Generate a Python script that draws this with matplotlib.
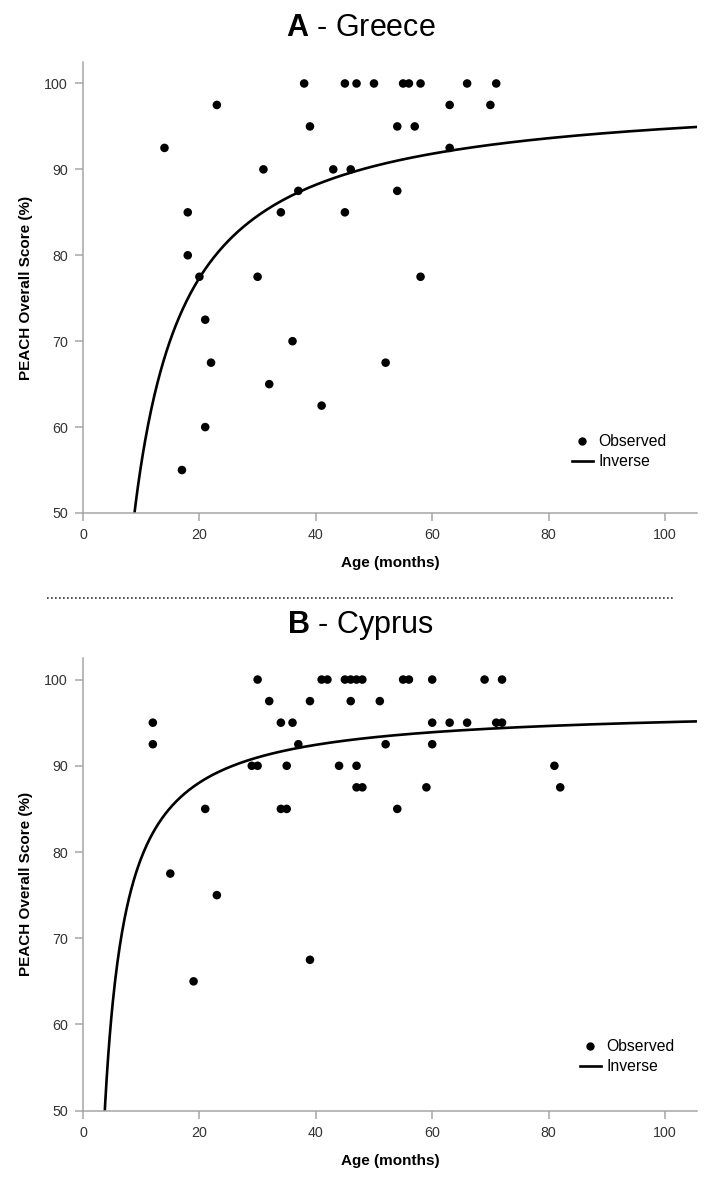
#!/usr/bin/env python3
"""
PEACH overall score vs age, with inverse curve fit (y = b0 + b1 / x).
Panel A: Greece, panel B: Cyprus.

Output: out.png (721 x 1193 px)
"""

import matplotlib

matplotlib.use("Agg")

import numpy as np
import matplotlib.pyplot as plt
from matplotlib.lines import Line2D

DPI = 100
W, H = 721, 1193

plt.rcParams["font.family"] = ["Liberation Sans", "DejaVu Sans"]
plt.rcParams["mathtext.fontset"] = "custom"
plt.rcParams["mathtext.bf"] = "Liberation Sans:bold"
plt.rcParams["mathtext.rm"] = "Liberation Sans"

C_AXIS = "#a6a6a6"
C_TICKLBL = "#333333"

# Panel A - Greece (age in months, score in %)
age_greece = [
    38, 23, 39, 14, 31, 37, 18, 34, 18, 20, 30, 21, 36, 22, 32, 21, 17,
    45, 47, 50, 55, 56, 58, 66, 71, 63, 70, 54, 57, 63, 43, 46, 54, 45,
    58, 52, 41,
]
score_greece = [
    100, 97.5, 95, 92.5, 90, 87.5, 85, 85, 80, 77.5, 77.5, 72.5, 70, 67.5, 65, 60, 55,
    100, 100, 100, 100, 100, 100, 100, 100, 97.5, 97.5, 95, 95, 92.5, 90, 90, 87.5, 85,
    77.5, 67.5, 62.5,
]

# Panel B - Cyprus
age_cyprus = [
    30, 32, 39, 12, 34, 36, 12, 37, 29, 30, 35, 21, 34, 35, 15, 23, 39, 19,
    41, 42, 45, 46, 47, 48, 55, 56, 60, 69, 72,
    46, 51,
    60, 63, 66, 71, 72,
    52, 60,
    44, 47,
    47, 48, 59,
    54,
    81, 82,
]
score_cyprus = [
    100, 97.5, 97.5, 95, 95, 95, 92.5, 92.5, 90, 90, 90, 85, 85, 85, 77.5, 75, 67.5, 65,
    100, 100, 100, 100, 100, 100, 100, 100, 100, 100, 100,
    97.5, 97.5,
    95, 95, 95, 95, 95,
    92.5, 92.5,
    90, 90,
    87.5, 87.5, 87.5,
    85,
    90, 87.5,
]

X_TICKS = [0, 20, 40, 60, 80, 100]
Y_TICKS = [50, 60, 70, 80, 90, 100]


def inverse_fit(x, y):
    """Ajuste inverso y = b0 + b1/x por minimos cuadrados."""
    x = np.asarray(x, dtype=float)
    y = np.asarray(y, dtype=float)
    b1, b0 = np.polyfit(1.0 / x, y, 1)
    return b0, b1


def draw_panel(ax, ages, scores, legend_xy):
    b0, b1 = inverse_fit(ages, scores)
    xs = np.linspace(0.5, 106, 800)
    ax.plot(xs, b0 + b1 / xs, color="black", lw=1.9, zorder=2)
    ax.scatter(ages, scores, s=38, color="black", edgecolors="none", zorder=3)

    ax.set_xlim(0, 105.5)
    ax.set_ylim(50, 102.5)
    ax.set_xticks(X_TICKS)
    ax.set_yticks(Y_TICKS)

    for side in ("top", "right"):
        ax.spines[side].set_visible(False)
    for side in ("left", "bottom"):
        ax.spines[side].set_color(C_AXIS)
        ax.spines[side].set_linewidth(1.1)
    ax.tick_params(
        direction="out", length=6, width=1.1, color=C_AXIS,
        labelsize=10.3, labelcolor=C_TICKLBL, pad=5,
    )

    ax.set_xlabel("Age (months)", fontsize=11, fontweight="bold", labelpad=10)
    ax.set_ylabel("PEACH Overall Score (%)", fontsize=11, fontweight="bold", labelpad=8)

    handles = [
        Line2D([], [], ls="none", marker="o", ms=5, color="black"),
        Line2D([], [], color="black", lw=1.9),
    ]
    ax.legend(
        handles, ["Observed", "Inverse"],
        loc="center left", bbox_to_anchor=legend_xy,
        frameon=False, fontsize=11.3, borderpad=0, borderaxespad=0,
        handlelength=1.35, handletextpad=0.35, labelspacing=0.3,
    )


def main():
    fig = plt.figure(figsize=(W / DPI, H / DPI), dpi=DPI)
    fig.patch.set_facecolor("white")

    left = 83 / W
    width = (697 - 83) / W

    ax_a = fig.add_axes([left, 1 - 513 / H, width, (513 - 62) / H])
    ax_b = fig.add_axes([left, 1 - 1110.7 / H, width, (1110.7 - 658) / H])

    draw_panel(ax_a, age_greece, score_greece, (0.796, 0.136))
    draw_panel(ax_b, age_cyprus, score_cyprus, (0.809, 0.119))

    # Titulos de panel.
    fig.text(0.5, 1 - 36 / H, r"$\mathbf{A}$ - Greece", ha="center", va="baseline",
             fontsize=22, color="black")
    fig.text(0.5, 1 - 633 / H, r"$\mathbf{B}$ - Cyprus", ha="center", va="baseline",
             fontsize=22, color="black")

    # Separador punteado.
    fig.add_artist(Line2D(
        [47 / W, 675 / W], [1 - 598 / H, 1 - 598 / H],
        transform=fig.transFigure, color="#333333", lw=1.2,
        linestyle=(0, (1, 1.4)),
    ))

    fig.savefig("out.png", dpi=DPI, facecolor="white")
    plt.close(fig)


if __name__ == "__main__":
    main()
